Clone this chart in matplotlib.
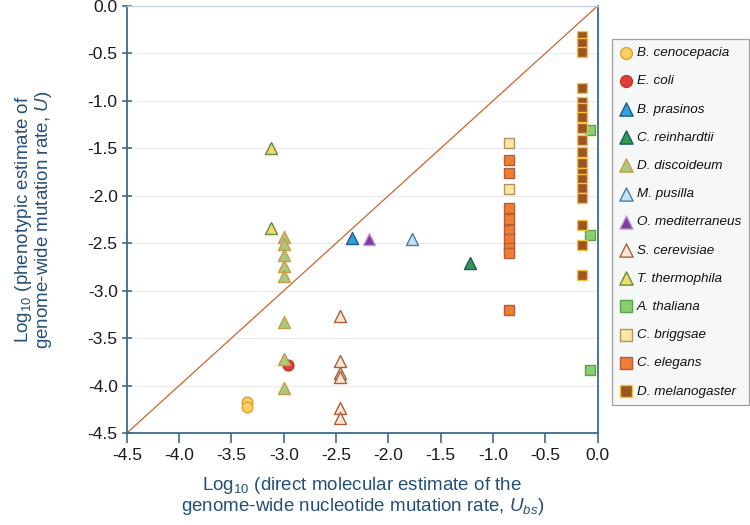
import matplotlib
matplotlib.use("Agg")
import matplotlib.pyplot as plt

plt.rcParams["font.family"] = ["Liberation Sans", "DejaVu Sans"]
plt.rcParams["mathtext.fontset"] = "custom"
plt.rcParams["mathtext.rm"] = "Liberation Sans"
plt.rcParams["mathtext.it"] = "Liberation Sans:italic"

# log10 (U_bs) and log10 (U) per species
b_cenocepacia_x = [-3.35, -3.35]
b_cenocepacia_y = [-4.17, -4.23]
e_coli_x = [-2.96]
e_coli_y = [-3.78]
b_prasinos_x = [-2.35]
b_prasinos_y = [-2.45]
c_reinhardtii_x = [-1.22]
c_reinhardtii_y = [-2.71]
d_discoideum_x = [-3.0] * 8
d_discoideum_y = [-2.43, -2.51, -2.62, -2.74, -2.85, -3.33, -3.72, -4.02]
m_pusilla_x = [-1.77]
m_pusilla_y = [-2.46]
o_mediterraneus_x = [-2.19]
o_mediterraneus_y = [-2.46]
s_cerevisiae_x = [-2.46] * 6
s_cerevisiae_y = [-3.27, -3.74, -3.87, -3.91, -4.24, -4.34]
t_thermophila_x = [-3.12, -3.12]
t_thermophila_y = [-1.50, -2.34]
a_thaliana_x = [-0.07, -0.07, -0.07]
a_thaliana_y = [-1.31, -2.41, -3.84]
c_briggsae_x = [-0.85, -0.85]
c_briggsae_y = [-1.44, -1.93]
c_elegans_x = [-0.85] * 9
c_elegans_y = [-1.62, -1.76, -2.13, -2.24, -2.36, -2.46, -2.55, -2.60, -3.20]
d_melanogaster_y = [-0.32, -0.39, -0.49, -0.87, -1.01, -1.08, -1.17, -1.29, -1.41,
                    -1.54, -1.66, -1.76, -1.82, -1.92, -2.02, -2.31, -2.52, -2.83]
d_melanogaster_x = [-0.15] * len(d_melanogaster_y)

ticks = [-4.5, -4.0, -3.5, -3.0, -2.5, -2.0, -1.5, -1.0, -0.5, 0.0]

# (label, x, y, marker, face, edge, size)
series = [
    ("B. cenocepacia", b_cenocepacia_x, b_cenocepacia_y, "o", "#f9cf62", "#dca23a", 60),
    ("E. coli", e_coli_x, e_coli_y, "o", "#e53d3a", "#b8352c", 60),
    ("B. prasinos", b_prasinos_x, b_prasinos_y, "^", "#2ea3dc", "#1d5c8a", 75),
    ("C. reinhardtii", c_reinhardtii_x, c_reinhardtii_y, "^", "#2e9c4c", "#1f5a6a", 75),
    ("D. discoideum", d_discoideum_x, d_discoideum_y, "^", "#a9c97c", "#c99b4a", 75),
    ("M. pusilla", m_pusilla_x, m_pusilla_y, "^", "#c2e2f6", "#4d7ea0", 75),
    ("O. mediterraneus", o_mediterraneus_x, o_mediterraneus_y, "^", "#7d3ea2", "#c99ad8", 75),
    ("S. cerevisiae", s_cerevisiae_x, s_cerevisiae_y, "^", "#fde4d4", "#a5603c", 75),
    ("T. thermophila", t_thermophila_x, t_thermophila_y, "^", "#f4d86c", "#5e9238", 75),
    ("A. thaliana", a_thaliana_x, a_thaliana_y, "s", "#8ccf6e", "#5ca24e", 55),
    ("C. briggsae", c_briggsae_x, c_briggsae_y, "s", "#fde7a2", "#b09464", 55),
    ("C. elegans", c_elegans_x, c_elegans_y, "s", "#ef7e32", "#b25e38", 55),
    ("D. melanogaster", d_melanogaster_x, d_melanogaster_y, "s", "#9a5522", "#f6c443", 55),
]

axis_blue = "#3e6a8e"
label_blue = "#245079"

fig = plt.figure(figsize=(7.5, 5.25), dpi=100)
ax = fig.add_axes([0.169, 0.175, 0.628, 0.814])

ax.plot([-4.5, 0.0], [-4.5, 0.0], color="#c9652f", linewidth=0.9, zorder=1)

for label, xs, ys, marker, face, edge, size in series:
    ax.scatter(xs, ys, marker=marker, s=size, facecolor=face, edgecolor=edge,
               linewidth=1.0, label=label, zorder=3)

ax.set_xlim(-4.5, 0.0)
ax.set_ylim(-4.5, 0.0)
ax.set_xticks(ticks, [f"{t:.1f}" for t in ticks])
ax.set_yticks(ticks, [f"{t:.1f}" for t in ticks])
ax.yaxis.grid(True, color="#ececec", linewidth=0.8)
ax.set_axisbelow(True)
ax.tick_params(axis="both", labelsize=12.5, colors=axis_blue, labelcolor="#1a1a1a",
               length=7, width=1.2)
ax.tick_params(axis="y", direction="inout", pad=3)
ax.tick_params(axis="x", direction="out", pad=4)

for side in ["left", "bottom", "right"]:
    ax.spines[side].set_color(axis_blue)
    ax.spines[side].set_linewidth(1.3)
ax.spines["top"].set_color("#c5d3df")
ax.spines["top"].set_linewidth(1.0)

ax.set_xlabel("Log$_{10}$ (direct molecular estimate of the\n"
              "genome-wide nucleotide mutation rate, $U_{bs}$)",
              fontsize=13.5, color=label_blue, labelpad=8, linespacing=1.0)
ax.set_ylabel("Log$_{10}$ (phenotypic estimate of\ngenome-wide mutation rate, $U$)",
              fontsize=13.5, color=label_blue, labelpad=24, linespacing=0.95)

leg = fig.legend(loc="upper left", bbox_to_anchor=(0.816, 0.925), frameon=True,
                 fancybox=False, fontsize=9.7, labelspacing=1.17, handletextpad=0.3,
                 borderpad=0.55, handlelength=1.0, borderaxespad=0, markerscale=1.1)
leg.get_frame().set_facecolor("#f4f5f6")
leg.get_frame().set_edgecolor("#8a8a8a")
leg.get_frame().set_linewidth(0.9)
for txt in leg.get_texts():
    txt.set_fontstyle("italic")
    txt.set_color("#111111")

fig.savefig("out.png", dpi=100)
